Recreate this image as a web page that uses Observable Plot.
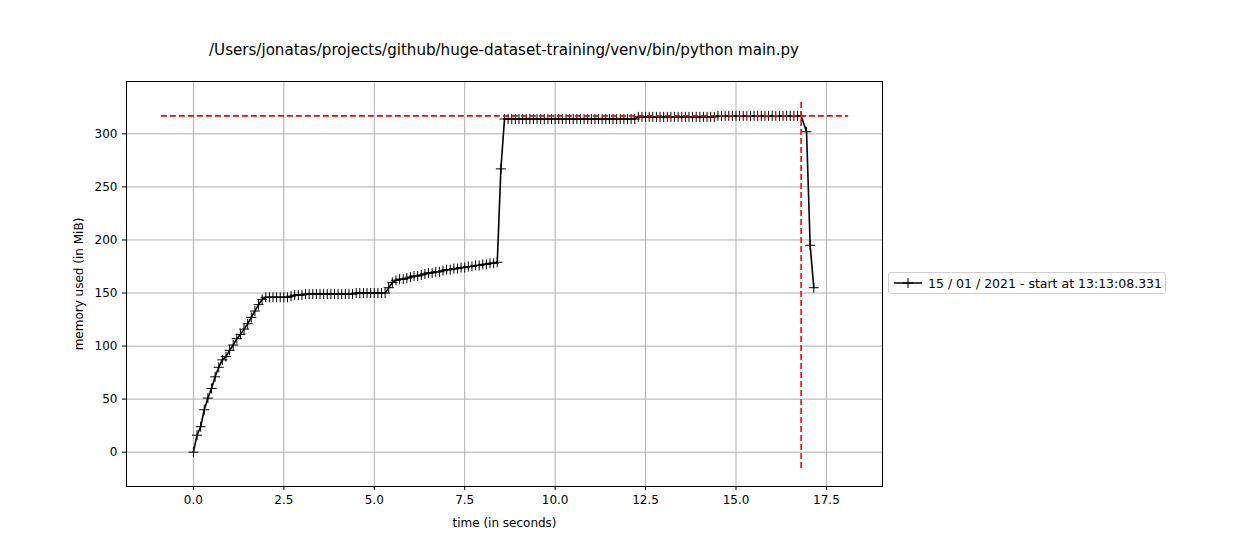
<!DOCTYPE html>
<html><head><meta charset="utf-8">
<script src="https://cdn.jsdelivr.net/npm/d3@7"></script>
<script src="https://cdn.jsdelivr.net/npm/@observablehq/plot@0.6"></script>
<style>
body{margin:0;background:#fff;font-family:"DejaVu Sans",sans-serif;}
#wrap{position:relative;width:1260px;height:540px;}
#title{position:absolute;left:0;width:1008px;top:41px;text-align:center;font-size:15.1px;}
#legend{position:absolute;left:888px;top:272px;width:276px;height:20px;border:1px solid #d0d0d0;border-radius:3px;font-size:12.5px;display:flex;align-items:center;}
#legend svg{margin:0 6px 0 5px;}
</style></head><body>
<div id="wrap"><div id="title">/Users/jonatas/projects/github/huge-dataset-training/venv/bin/python main.py</div>
<div id="legend"><svg width="28" height="12"><line x1="0" y1="6" x2="28" y2="6" stroke="#000" stroke-width="1.5"/><line x1="14" y1="1" x2="14" y2="11" stroke="#000"/><line x1="9" y1="6" x2="19" y2="6" stroke="#000"/></svg>15 / 01 / 2021 - start at 13:13:08.331</div></div>
<script>
const times = [
0.0,0.1,0.2,0.3,0.4,0.5,0.6,0.7,0.8,0.9,
1.0,1.1,1.2,1.3,1.4,1.5,1.6,1.7,1.8,1.9,
2.0,2.1,2.2,2.3,2.4,2.5,2.6,2.7,2.8,2.9,
3.0,3.1,3.2,3.3,3.4,3.5,3.6,3.7,3.8,3.9,
4.0,4.1,4.2,4.3,4.4,4.5,4.6,4.7,4.8,4.9,
5.0,5.1,5.2,5.3,5.4,5.5,5.6,5.7,5.8,5.9,
6.0,6.1,6.2,6.3,6.4,6.5,6.6,6.7,6.8,6.9,
7.0,7.1,7.2,7.3,7.4,7.5,7.6,7.7,7.8,7.9,
8.0,8.1,8.2,8.3,8.4,8.5,8.6,8.7,8.8,8.9,
9.0,9.1,9.2,9.3,9.4,9.5,9.6,9.7,9.8,9.9,
10.0,10.1,10.2,10.3,10.4,10.5,10.6,10.7,10.8,10.9,
11.0,11.1,11.2,11.3,11.4,11.5,11.6,11.7,11.8,11.9,
12.0,12.1,12.2,12.3,12.4,12.5,12.6,12.7,12.8,12.9,
13.0,13.1,13.2,13.3,13.4,13.5,13.6,13.7,13.8,13.9,
14.0,14.1,14.2,14.3,14.4,14.5,14.6,14.7,14.8,14.9,
15.0,15.1,15.2,15.3,15.4,15.5,15.6,15.7,15.8,15.9,
16.0,16.1,16.2,16.3,16.4,16.5,16.6,16.7,16.8,
16.95,17.05,17.15];
const memory = [
0,16,24,40,51,60,71,80,87,90,
96,101,107,111,116,121,127,133,139,144,
146,146,146,146,146,146,146,147,148,148,
148,149,149,149,149,149,149,149,149,149,
149,149,149,149,149,150,150,150,150,150,
150,150,150,150,155,160,162,163,163,164,
165,166,166,167,168,169,169,170,170,171,
172,172,173,173,174,174,175,175,176,176,
177,177,178,178,179,267,314,314,314,314,
314,314,314,314,314,314,314,314,314,314,
314,314,314,314,314,314,314,314,314,314,
314,314,314,314,314,314,314,314,314,314,
314,314,314,316,316,316,316,316,316,316,
316,316,316,316,316,316,316,316,316,316,
316,316,316,316,316,317,317,317,317,317,
317,317,317,317,317,317,317,317,317,317,
317,317,317,317,317,317,317,317,317,
302,195,155];
const peakMem = 317, peakTime = 16.8;
const hLine = [{x1:-0.9,x2:18.1}], vLine = [{y1:-15,y2:332}];
const xTicks = [0,2.5,5,7.5,10,12.5,15,17.5], yTicks = [0,50,100,150,200,250,300];
const data = times.map((t,i)=>({t,m:memory[i]}));
const plus = {draw(ctx,size){const r=5;ctx.moveTo(-r,0);ctx.lineTo(r,0);ctx.moveTo(0,-r);ctx.lineTo(0,r);}};
const chart = Plot.plot({
  width:1260,height:540,marginLeft:126,marginRight:378,marginTop:81,marginBottom:54,
  style:{fontFamily:"DejaVu Sans",fontSize:"12px",color:"#000",background:"transparent"},
  x:{domain:[-1.85,19.05],ticks:xTicks,tickFormat:d=>d.toFixed(1),label:"time (in seconds)",labelAnchor:"center",labelArrow:false,tickSize:4,labelOffset:40},
  y:{domain:[-32.35,349.35],ticks:yTicks,tickFormat:d=>String(d),label:"memory used (in MiB)",labelAnchor:"center",labelArrow:false,tickSize:4,labelOffset:52},
  marks:[
    Plot.gridX(xTicks,{stroke:"#b0b0b0",strokeOpacity:1}),
    Plot.gridY(yTicks,{stroke:"#b0b0b0",strokeOpacity:1}),
    Plot.line(data,{x:"t",y:"m",stroke:"#000",strokeWidth:1.6}),
    Plot.dot(data,{x:"t",y:"m",symbol:plus,stroke:"#000",fill:"none",strokeWidth:1}),
    Plot.link(hLine,{x1:"x1",x2:"x2",y1:()=>peakMem,y2:()=>peakMem,stroke:"red",strokeWidth:1.6,strokeDasharray:"6,3"}),
    Plot.link(vLine,{x1:()=>peakTime,x2:()=>peakTime,y1:"y1",y2:"y2",stroke:"red",strokeWidth:1.6,strokeDasharray:"6,3"}),
    Plot.frame({stroke:"#000"})
  ]
});
chart.style.position="absolute";chart.style.left="0";chart.style.top="0";
document.getElementById("wrap").prepend(chart);
</script></body></html>
